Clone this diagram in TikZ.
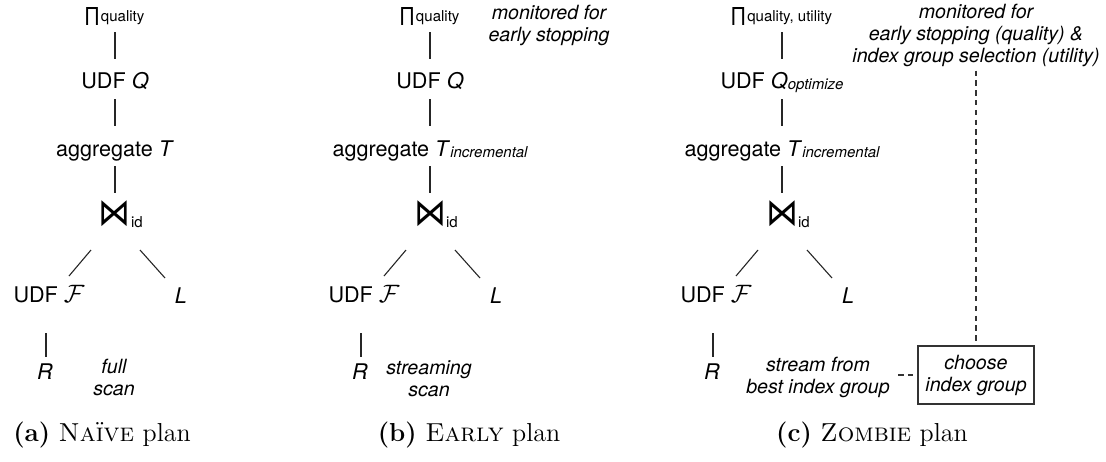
\documentclass[tikz,border=0pt]{standalone}
\usepackage{fontspec}
\usepackage{graphicx}
\usetikzlibrary{calc}
\newfontfamily\hv{TeX Gyre Heros}
\newfontfamily\dv{DejaVu Sans}
% operator subscripts
\newcommand\opsub[1]{{\fontsize{7.5}{9}\selectfont #1}}
\newcommand\itsub[1]{\raisebox{-0.5pt}{\fontsize{7.5}{9}\selectfont\itshape #1}}
% projection, join and feature-UDF symbols
\newcommand\projsym{\raisebox{-2pt}{\resizebox{6.5pt}{9pt}{Π}}\hspace{1.2pt}}
\newcommand\joinsym{\raisebox{0.3pt}{\resizebox*{16pt}{13pt}{\dv\raisebox{\depth}{⋈}}}}
\newcommand\featsym{\scalebox{1.15}{$\mathcal{F}$}}

\tikzset{
  tx/.style={font=\hv\fontsize{10.8}{13}\selectfont, inner sep=0pt, anchor=base},
  note/.style={font=\hv\itshape\fontsize{9.8}{11}\selectfont, inner sep=0pt, align=center},
  link/.style={draw=black!85, line width=0.55pt},
  dlink/.style={draw=black!80, line width=0.55pt, dash pattern=on 2.7pt off 2.2pt},
  capt/.style={font=\fontsize{13}{15}\selectfont, inner sep=0pt, anchor=base},
  choosebox/.style={note, draw=black!80, line width=0.65pt, minimum width=58pt, minimum height=29pt}
}

% one query plan tree: #1 name suffix, #2 horizontal shift, #3 projection, #4 UDF, #5 aggregate
\newcommand\plantree[5]{%
\begin{scope}[xshift=#2*0.5pt]
  \node[tx] (p#1) at (115,21)  {#3};
  \node[tx] (q#1) at (115,88)  {#4};
  \node[tx] (t#1) at (115,156) {#5};
  \node[tx] (j#1) at (115,227) {\joinsym\rlap{\opsub{id}}};
  \node[tx] (f#1) at (49,302)  {UDF \featsym};
  \node[tx] (l#1) at (181,303) {\textit{L}};
  \node[tx] (r#1) at (45,379)  {\textit{R}};
  \draw[link] ($(p#1.base)+(0,11)$) -- ($(q#1.base)+(0,-29)$);
  \draw[link] ($(q#1.base)+(0,11)$) -- ($(t#1.base)+(0,-30)$);
  \draw[link] ($(t#1.base)+(0,10)$) -- ($(j#1.base)+(0,-34)$);
  \draw[link] ($(j#1.base)+(-24,23)$) -- ($(f#1.base)+(20,-26)$);
  \draw[link] ($(j#1.base)+(25,23)$) -- ($(l#1.base)+(-16,-25)$);
  \draw[link] ($(f#1.base)+(-3,31)$) -- ($(r#1.base)+(1,-22)$);
\end{scope}}

\begin{document}
\begin{tikzpicture}[x=0.5pt, y=-0.5pt]
  \useasboundingbox (0,0) rectangle (1106,461);

  % (a) naive plan
  \plantree{a}{0}{\projsym\opsub{quality}}{UDF \textit{Q}}{aggregate \textit{T}}
  \node[note, anchor=base] (scana) at (114,395) {full\\scan};
  \node[capt] (capa) at (102,441) {\textbf{(a)} \textsc{Naïve} plan};

  % (b) early-stopping plan
  \plantree{b}{315}{\projsym\opsub{quality}}{UDF \textit{Q}}{aggregate \textit{T}\itsub{incremental}}
  \node[note, anchor=base] (monb) at (549,41) {monitored for\\early stopping};
  \node[note, anchor=base] (scanb) at (429,396) {streaming\\scan};
  \node[capt] (capb) at (469,441) {\textbf{(b)} \textsc{Early} plan};

  % (c) index-driven plan
  \plantree{c}{667}{\projsym\opsub{quality, utility}}{UDF \textit{Q}\itsub{optimize}}{aggregate \textit{T}\itsub{incremental}}
  \node[note, anchor=base] (monc) at (976,62) {monitored for\\early stopping (quality) \&\\index group selection (utility)};
  \node[note, anchor=base] (streamc) at (818,393) {stream from\\best index group};
  \node[choosebox] (choose) at (976,375) {choose\\index group};
  \draw[dlink, shorten <=2pt] (monc.south) -- (choose.north);
  \draw[dlink, shorten <=4pt, shorten >=1pt] (choose.west -| streamc.east) -- (choose.west);
  \node[capt] (capc) at (872,441) {\textbf{(c)} \textsc{Zombie} plan};
\end{tikzpicture}
\end{document}
